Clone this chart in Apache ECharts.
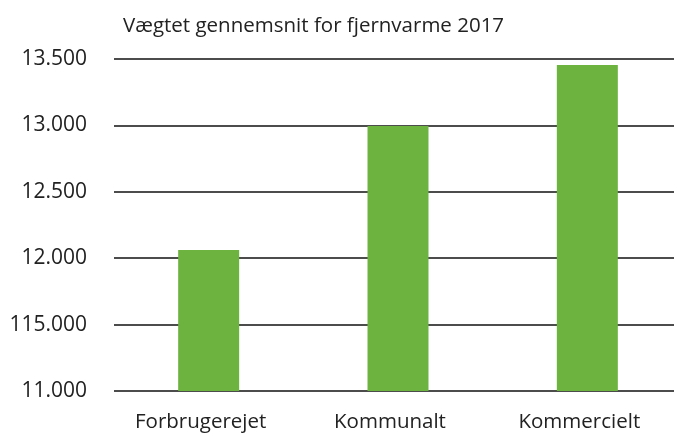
<!DOCTYPE html>
<html>
<head>
<meta charset="utf-8">
<script src="https://cdn.jsdelivr.net/npm/echarts@6/dist/echarts.min.js"></script>
<style>
  html, body { margin: 0; padding: 0; background: #fff; }
  #chart { width: 674px; height: 437px; }
</style>
</head>
<body>
<div id="chart"></div>
<script>
    var categories = ['Forbrugerejet', 'Kommunalt', 'Kommercielt'];
    var values = [12062, 12995, 13455];
    // tick labels as printed in the original (incl. its "115.000")
    var tickValues = [11000, 11500, 12000, 12500, 13000, 13500];
    var tickLabels = ['11.000', '115.000', '12.000', '12.500', '13.000', '13.500'];

    var chart = echarts.init(document.getElementById('chart'));
    var fontFamily = '"Open Sans", sans-serif';

    var option = {
        animation: false,
        title: {
            text: 'Vægtet gennemsnit for fjernvarme 2017',
            left: 118,
            top: 11,
            textStyle: {
                color: '#222',
                fontSize: 20.5,
                fontWeight: 'normal',
                fontFamily: fontFamily
            }
        },
        grid: {
            left: 114,
            top: 59,
            width: 568,
            bottom: 46,
            outerBoundsMode: 'none'
        },
        xAxis: {
            type: 'category',
            data: categories,
            axisLine: {show: false},
            axisTick: {show: false},
            axisLabel: {
                color: '#222',
                fontSize: 20.5,
                fontFamily: fontFamily,
                margin: 21,
                padding: [0, 16, 0, 0]
            }
        },
        yAxis: {
            type: 'value',
            min: 11000,
            max: 13500,
            interval: 500,
            axisLine: {show: false},
            axisTick: {show: false},
            splitLine: {
                lineStyle: {color: '#111', width: 1.5}
            },
            axisLabel: {
                color: '#222',
                fontSize: 21,
                fontFamily: fontFamily,
                margin: 27,
                formatter: function (v) {
                    var i = tickValues.indexOf(v);
                    return i >= 0 ? tickLabels[i] : '';
                }
            }
        },
        series: [
            {
                type: 'bar',
                data: values,
                barWidth: 61,
                itemStyle: {color: '#6db33f'}
            }
        ]
    };

    chart.setOption(option);
</script>
</body>
</html>
